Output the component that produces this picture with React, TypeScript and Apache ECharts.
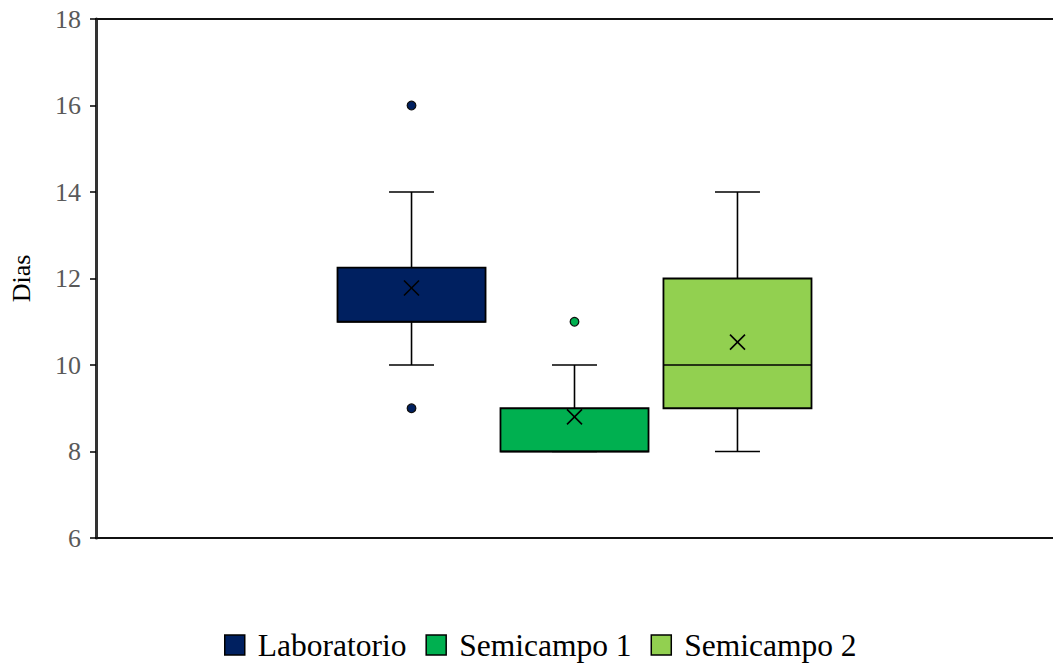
import React, { useEffect, useRef } from "react";
import * as echarts from "echarts";

const groups = ["Laboratorio", "Semicampo 1", "Semicampo 2"];
const colors = ["#002060", "#00B050", "#92D050"];
const whiskerMin = [10, 8, 8];
const q1 = [11, 8, 9];
const median = [11, 8, 10];
const q3 = [12.25, 9, 12];
const whiskerMax = [14, 10, 14];
const means = [11.78, 8.8, 10.53];
const outliers: number[][] = [[9, 16], [11], []];
const yTicks = { min: 6, max: 18, interval: 2 };
const yName = "Dias";

const SERIF = "'Liberation Serif', 'Times New Roman', serif";

export default function App() {
  const ref = useRef<HTMLDivElement>(null);
  useEffect(() => {
    if (!ref.current) return;
    const chart = echarts.init(ref.current, null, { renderer: "svg" });
    const series = groups.map((name, i) => ({
      name,
      type: "custom",
      xAxisIndex: 0,
      yAxisIndex: 0,
      itemStyle: { color: colors[i] },
      data: [[0, whiskerMin[i], q1[i], median[i], q3[i], whiskerMax[i], means[i]]],
      renderItem: (params: any, api: any) => {
        const band = api.size([1, 0])[0];
        const center = api.coord([api.value(0), 0])[0];
        const x = center + (i - 1) * band * 0.1703;
        const bw = band * 0.1547;
        const cap = band * 0.047;
        const y = (v: number) => api.coord([0, v])[1];
        const yMin = y(api.value(1));
        const yQ1 = y(api.value(2));
        const yMed = y(api.value(3));
        const yQ3 = y(api.value(4));
        const yMax = y(api.value(5));
        const yMean = y(api.value(6));
        const ls = { stroke: "#000", lineWidth: 1.6 };
        const m = 7.5;
        const children: any[] = [
          { type: "line", shape: { x1: x, y1: yQ3, x2: x, y2: yMax }, style: ls },
          { type: "line", shape: { x1: x, y1: yQ1, x2: x, y2: yMin }, style: ls },
          { type: "line", shape: { x1: x - cap / 2, y1: yMax, x2: x + cap / 2, y2: yMax }, style: ls },
          { type: "line", shape: { x1: x - cap / 2, y1: yMin, x2: x + cap / 2, y2: yMin }, style: ls },
          {
            type: "rect",
            shape: { x: x - bw / 2, y: yQ3, width: bw, height: yQ1 - yQ3 },
            style: { fill: colors[i], stroke: "#000", lineWidth: 1.8 },
          },
          { type: "line", shape: { x1: x - bw / 2, y1: yMed, x2: x + bw / 2, y2: yMed }, style: ls },
          { type: "line", shape: { x1: x - m, y1: yMean - m, x2: x + m, y2: yMean + m }, style: ls },
          { type: "line", shape: { x1: x - m, y1: yMean + m, x2: x + m, y2: yMean - m }, style: ls },
        ];
        outliers[i].forEach((v) => {
          children.push({
            type: "circle",
            shape: { cx: x, cy: y(v), r: 4.3 },
            style: { fill: colors[i], stroke: "#111", lineWidth: 1.3 },
          });
        });
        return { type: "group", children };
      },
    }));

    chart.setOption({
      animation: false,
      grid: { left: 96, right: 0, top: 19, bottom: 125, containLabel: false },
      legend: {
        data: groups,
        left: 219,
        top: 624,
        icon: "rect",
        itemWidth: 20,
        itemHeight: 20,
        itemGap: 19,
        itemStyle: { borderColor: "#000", borderWidth: 1.5 },
        textStyle: {
          fontFamily: SERIF,
          fontSize: 31.5,
          color: "#000",
          padding: [0, 0, 0, 8],
        },
      },
      xAxis: [
        {
          type: "category",
          data: [""],
          position: "bottom",
          axisLine: { show: true, lineStyle: { color: "#111", width: 2 } },
          axisTick: { show: false },
          axisLabel: { show: false },
          splitLine: { show: false },
        },
        {
          type: "category",
          data: [""],
          position: "top",
          axisLine: { show: true, lineStyle: { color: "#111", width: 2 } },
          axisTick: { show: false },
          axisLabel: { show: false },
          splitLine: { show: false },
        },
      ],
      yAxis: {
        type: "value",
        min: yTicks.min,
        max: yTicks.max,
        interval: yTicks.interval,
        name: yName,
        nameLocation: "middle",
        nameGap: 62,
        nameTextStyle: { fontFamily: SERIF, fontSize: 26, color: "#000" },
        axisLine: { show: true, lineStyle: { color: "#333", width: 3 } },
        axisTick: { show: true, length: 6, lineStyle: { color: "#000", width: 1.5 } },
        axisLabel: { fontFamily: SERIF, fontSize: 26, color: "#595959", margin: 15 },
        splitLine: { show: false },
      },
      series,
    });
    return () => chart.dispose();
  }, []);
  return (
    <div
      ref={ref}
      style={{ position: "fixed", left: 0, top: 0, width: 1053, height: 663, background: "#fff" }}
    />
  );
}
